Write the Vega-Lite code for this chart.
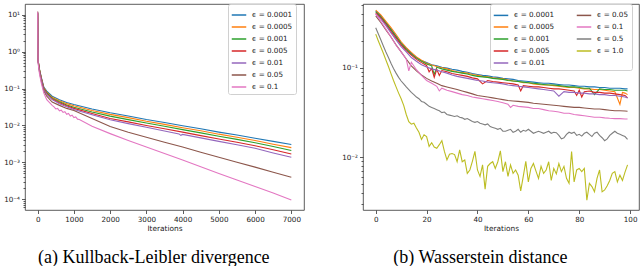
{
"$schema": "https://vega.github.io/schema/vega-lite/v6.json",
"padding": {"left": 3, "top": 3, "right": 0, "bottom": 0},
"spacing": 36,
"config": {
  "view": {"stroke": "#333333", "strokeWidth": 0.8},
  "axis": {"domain": false, "grid": false, "labelFont": "DejaVu Sans", "labelFontSize": 7.2, "labelColor": "#1a1a1a", "tickColor": "#333333", "tickWidth": 0.8, "titleFont": "DejaVu Sans", "titleFontSize": 7.4, "titleFontWeight": "normal", "titleColor": "#1a1a1a", "labelPadding": 2, "titlePadding": 2},
  "legend": {"labelFont": "DejaVu Sans", "labelFontSize": 7.2, "labelColor": "#1a1a1a"},
  "title": {"font": "Liberation Serif", "fontSize": 18, "fontWeight": "normal", "color": "#000000"}
},
"datasets": {
"L": [
{"x":0,"a":12,"b":12,"c":11.5,"d":11,"e":11,"f":11,"g":12},
{"x":10,"a":0.6,"b":0.6,"c":0.6,"d":0.58,"e":0.57,"f":0.55,"g":0.5},
{"x":50,"a":0.33,"b":0.33,"c":0.32,"d":0.31,"e":0.3,"f":0.28,"g":0.25},
{"x":100,"a":0.2,"b":0.195,"c":0.19,"d":0.185,"e":0.18,"f":0.16,"g":0.14},
{"x":170,"a":0.11,"b":0.105,"c":0.1,"d":0.097,"e":0.093,"f":0.085,"g":0.075},
{"x":250,"a":0.085,"b":0.08,"c":0.077,"d":0.073,"e":0.07,"f":0.062,"g":0.05},
{"x":400,"a":0.062,"b":0.058,"c":0.055,"d":0.052,"e":0.05,"f":0.043,"g":0.035},
{"x":450,"g":0.032},
{"x":500,"g":0.028},
{"x":550,"g":0.029},
{"x":600,"a":0.05,"b":0.047,"c":0.044,"d":0.041,"e":0.039,"f":0.035,"g":0.025},
{"x":650,"g":0.026},
{"x":700,"g":0.0225},
{"x":750,"g":0.0235},
{"x":800,"a":0.042,"b":0.039,"c":0.036,"d":0.034,"e":0.032,"f":0.029,"g":0.02},
{"x":850,"g":0.0212},
{"x":900,"g":0.018},
{"x":950,"g":0.019},
{"x":1000,"a":0.037,"b":0.034,"c":0.031,"d":0.029,"e":0.027,"f":0.0255,"g":0.0163},
{"x":1050,"g":0.017},
{"x":1100,"g":0.0148},
{"x":1150,"g":0.0145},
{"x":1500,"a":0.028,"b":0.0255,"c":0.0232,"d":0.021,"e":0.0195,"f":0.0155,"g":0.0095},
{"x":2000,"a":0.022,"b":0.02,"c":0.0179,"d":0.0155,"e":0.0142,"f":0.0093,"g":0.006},
{"x":2500,"a":0.018,"b":0.0163,"c":0.0144,"d":0.0125,"e":0.0112,"f":0.0065,"g":0.0039},
{"x":3000,"a":0.0145,"b":0.013,"c":0.0116,"d":0.01,"e":0.0089,"f":0.0048,"g":0.0026},
{"x":3500,"a":0.012,"b":0.0107,"c":0.0095,"d":0.0081,"e":0.0071,"f":0.0035,"g":0.00174},
{"x":3900,"e":0.0059},
{"x":3950,"e":0.0054},
{"x":4000,"a":0.0098,"b":0.0087,"c":0.0077,"d":0.0066,"e":0.0057,"f":0.0026,"g":0.00115},
{"x":4500,"a":0.0081,"b":0.0072,"c":0.0063,"d":0.0053,"e":0.0046,"f":0.00188,"g":0.00076},
{"x":5000,"a":0.0066,"b":0.0058,"c":0.0051,"d":0.0043,"e":0.0037,"f":0.00137,"g":0.0005},
{"x":5500,"a":0.0055,"b":0.0048,"c":0.0042,"d":0.0035,"e":0.003,"f":0.001,"g":0.00033},
{"x":6000,"a":0.0045,"b":0.0039,"c":0.0034,"d":0.0028,"e":0.0024,"f":0.00074,"g":0.00022},
{"x":6500,"a":0.0037,"b":0.0031,"c":0.0027,"d":0.0022,"e":0.0018,"f":0.00054,"g":0.000147},
{"x":7000,"a":0.00305,"b":0.0025,"c":0.00209,"d":0.00169,"e":0.00138,"f":0.000396,"g":0.000095}
],
"R": [
{"x":0,"a":0.43,"b":0.44,"c":0.42,"d":0.41,"e":0.40,"f":0.38,"g":0.40,"h":0.28,"i":0.237},
{"x":1,"h":0.24,"i":0.2},
{"x":2,"a":0.38,"b":0.39,"c":0.37,"d":0.36,"e":0.35,"f":0.32,"g":0.33,"h":0.205,"i":0.17},
{"x":3,"h":0.175,"i":0.145},
{"x":4,"a":0.32,"b":0.33,"c":0.315,"d":0.305,"e":0.295,"f":0.265,"g":0.27,"h":0.15,"i":0.122},
{"x":5,"h":0.13,"i":0.103},
{"x":6,"a":0.27,"b":0.28,"c":0.265,"d":0.255,"e":0.245,"f":0.22,"g":0.22,"h":0.112,"i":0.086},
{"x":7,"h":0.098,"i":0.072},
{"x":8,"a":0.225,"b":0.235,"c":0.222,"d":0.214,"e":0.205,"f":0.18,"g":0.178,"h":0.087,"i":0.061},
{"x":9,"h":0.078,"i":0.052},
{"x":10,"a":0.19,"b":0.195,"c":0.186,"d":0.18,"e":0.172,"f":0.15,"g":0.15,"h":0.071,"i":0.045},
{"x":11,"h":0.066,"i":0.038},
{"x":12,"a":0.165,"b":0.168,"c":0.16,"d":0.155,"e":0.15,"f":0.125,"g":0.125,"h":0.061,"i":0.030},
{"x":13,"g":0.092,"h":0.057,"i":0.025},
{"x":14,"a":0.145,"b":0.148,"c":0.142,"d":0.138,"e":0.13,"f":0.105,"g":0.115,"h":0.053,"i":0.0234},
{"x":15,"h":0.05,"i":0.024},
{"x":16,"a":0.13,"b":0.132,"c":0.128,"d":0.124,"e":0.118,"f":0.092,"g":0.095,"h":0.047,"i":0.0212},
{"x":17,"h":0.045,"i":0.019},
{"x":18,"a":0.12,"b":0.121,"c":0.118,"d":0.114,"e":0.108,"f":0.083,"g":0.082,"h":0.042,"i":0.0158},
{"x":19,"h":0.041,"i":0.0178},
{"x":20,"a":0.114,"b":0.112,"c":0.11,"d":0.106,"e":0.102,"f":0.076,"g":0.072,"h":0.039,"i":0.017},
{"x":21,"d":0.09,"h":0.037,"i":0.0132},
{"x":22,"a":0.108,"b":0.107,"c":0.105,"d":0.098,"e":0.097,"f":0.071,"g":0.067,"h":0.036,"i":0.0145},
{"x":23,"c":0.084,"d":0.078,"h":0.035,"i":0.013},
{"x":24,"a":0.105,"b":0.103,"c":0.101,"d":0.096,"e":0.094,"f":0.067,"g":0.062,"h":0.034,"i":0.0126},
{"x":25,"d":0.082,"g":0.055,"h":0.033,"i":0.0138},
{"x":26,"a":0.101,"b":0.1,"c":0.097,"d":0.093,"e":0.09,"f":0.063,"g":0.059,"h":0.0315,"i":0.0153},
{"x":27,"h":0.032,"i":0.0116},
{"x":28,"a":0.099,"b":0.097,"c":0.094,"d":0.09,"e":0.087,"f":0.061,"g":0.056,"h":0.030,"i":0.0093},
{"x":29,"h":0.0295,"i":0.0108},
{"x":30,"a":0.096,"b":0.093,"c":0.091,"d":0.086,"e":0.083,"f":0.059,"g":0.054,"h":0.029,"i":0.011},
{"x":31,"h":0.0285,"i":0.0107},
{"x":32,"a":0.094,"b":0.09,"c":0.089,"d":0.084,"e":0.08,"f":0.057,"g":0.052,"h":0.029,"i":0.0089},
{"x":33,"h":0.028,"i":0.0121},
{"x":34,"a":0.091,"b":0.088,"c":0.087,"d":0.082,"e":0.078,"f":0.055,"g":0.05,"h":0.0275,"i":0.0089},
{"x":35,"h":0.0265,"i":0.0093},
{"x":36,"a":0.089,"b":0.087,"c":0.085,"d":0.08,"e":0.076,"f":0.053,"g":0.049,"h":0.027,"i":0.0066},
{"x":37,"h":0.026,"i":0.0072},
{"x":38,"a":0.086,"b":0.084,"c":0.082,"d":0.077,"e":0.074,"f":0.051,"g":0.047,"h":0.025,"i":0.009},
{"x":39,"h":0.0245,"i":0.0116},
{"x":40,"a":0.084,"b":0.082,"c":0.08,"d":0.075,"e":0.072,"f":0.049,"g":0.046,"h":0.025,"i":0.0072},
{"x":41,"h":0.024,"i":0.0061},
{"x":42,"a":0.082,"b":0.08,"c":0.079,"d":0.066,"e":0.071,"f":0.048,"g":0.045,"h":0.0235,"i":0.0082},
{"x":43,"h":0.023,"i":0.0044},
{"x":44,"a":0.081,"b":0.079,"c":0.078,"d":0.072,"e":0.069,"f":0.047,"g":0.044,"h":0.0235,"i":0.0079},
{"x":45,"h":0.022,"i":0.0085},
{"x":46,"a":0.079,"b":0.077,"c":0.076,"d":0.07,"e":0.068,"f":0.046,"g":0.043,"h":0.0215,"i":0.0089},
{"x":47,"h":0.021,"i":0.0075},
{"x":48,"a":0.078,"b":0.076,"c":0.075,"d":0.069,"e":0.067,"f":0.045,"g":0.042,"h":0.0205,"i":0.0089},
{"x":49,"h":0.021,"i":0.0118},
{"x":50,"a":0.076,"b":0.075,"c":0.074,"d":0.068,"e":0.066,"f":0.044,"g":0.0405,"h":0.0195,"i":0.0069},
{"x":51,"h":0.0195,"i":0.0089},
{"x":52,"a":0.075,"b":0.073,"c":0.072,"d":0.067,"e":0.064,"f":0.043,"g":0.039,"h":0.020,"i":0.0061},
{"x":53,"g":0.036,"h":0.0205,"i":0.0082},
{"x":54,"a":0.074,"b":0.071,"c":0.071,"d":0.066,"e":0.063,"f":0.0425,"g":0.038,"h":0.019,"i":0.0066},
{"x":55,"h":0.0195,"i":0.0072},
{"x":56,"a":0.072,"b":0.07,"c":0.07,"d":0.064,"e":0.062,"f":0.042,"g":0.037,"h":0.0205,"i":0.0063},
{"x":57,"d":0.055,"h":0.019,"i":0.0042},
{"x":58,"a":0.071,"b":0.068,"c":0.069,"d":0.063,"e":0.061,"f":0.0415,"g":0.0365,"h":0.020,"i":0.0061},
{"x":59,"h":0.0195,"i":0.009},
{"x":60,"a":0.07,"b":0.068,"c":0.068,"d":0.062,"e":0.06,"f":0.041,"g":0.036,"h":0.0205,"i":0.0053},
{"x":61,"h":0.0195,"i":0.0075},
{"x":62,"a":0.069,"b":0.066,"c":0.067,"d":0.061,"e":0.059,"f":0.04,"g":0.035,"h":0.0185,"i":0.0085},
{"x":63,"h":0.019,"i":0.007},
{"x":64,"a":0.068,"b":0.065,"c":0.066,"d":0.061,"e":0.058,"f":0.0395,"g":0.035,"h":0.0195,"i":0.0058},
{"x":65,"h":0.019,"i":0.0079},
{"x":66,"a":0.067,"b":0.064,"c":0.065,"d":0.06,"e":0.057,"f":0.039,"g":0.034,"h":0.0185,"i":0.0066},
{"x":67,"h":0.019,"i":0.0072},
{"x":68,"a":0.067,"b":0.064,"c":0.064,"d":0.059,"e":0.056,"f":0.0385,"g":0.033,"h":0.0195,"i":0.0089},
{"x":69,"h":0.0185,"i":0.0055},
{"x":70,"a":0.066,"b":0.063,"c":0.064,"d":0.058,"e":0.055,"f":0.038,"g":0.0326,"h":0.019,"i":0.0075},
{"x":71,"h":0.0188,"i":0.0065},
{"x":72,"a":0.065,"b":0.062,"c":0.063,"d":0.058,"e":0.048,"f":0.0375,"g":0.032,"h":0.0175,"i":0.0085},
{"x":73,"h":0.016,"i":0.0069},
{"x":74,"a":0.064,"b":0.061,"c":0.062,"d":0.057,"e":0.054,"f":0.037,"g":0.031,"h":0.0165,"i":0.0079},
{"x":75,"h":0.018,"i":0.0058},
{"x":76,"a":0.064,"b":0.06,"c":0.061,"d":0.056,"e":0.053,"f":0.0365,"g":0.031,"h":0.019,"i":0.0051},
{"x":77,"h":0.0185,"i":0.0116},
{"x":78,"a":0.063,"b":0.06,"c":0.061,"d":0.055,"e":0.053,"f":0.036,"g":0.030,"h":0.019,"i":0.0053},
{"x":79,"d":0.049,"h":0.0175,"i":0.0072},
{"x":80,"a":0.062,"b":0.059,"c":0.06,"d":0.056,"e":0.052,"f":0.036,"g":0.0295,"h":0.018,"i":0.0075},
{"x":81,"d":0.047,"h":0.0172,"i":0.0069},
{"x":82,"a":0.062,"b":0.058,"c":0.059,"d":0.054,"e":0.052,"f":0.0355,"g":0.029,"h":0.0185,"i":0.0075},
{"x":83,"h":0.019,"i":0.0033},
{"x":84,"a":0.061,"b":0.058,"c":0.059,"d":0.055,"e":0.051,"f":0.035,"g":0.0285,"h":0.018,"i":0.0051},
{"x":85,"h":0.017,"i":0.0047},
{"x":86,"a":0.061,"b":0.057,"c":0.05,"d":0.053,"e":0.051,"f":0.0345,"g":0.028,"h":0.0185,"i":0.0041},
{"x":87,"h":0.019,"i":0.0058},
{"x":88,"a":0.06,"b":0.057,"c":0.058,"d":0.053,"e":0.05,"f":0.0345,"g":0.028,"h":0.0175,"i":0.0072},
{"x":89,"h":0.0165,"i":0.0041},
{"x":90,"a":0.06,"b":0.056,"c":0.057,"d":0.052,"e":0.05,"f":0.034,"g":0.0275,"h":0.0153,"i":0.0043},
{"x":91,"h":0.016,"i":0.0048},
{"x":92,"a":0.059,"b":0.055,"c":0.057,"d":0.052,"e":0.049,"f":0.0335,"g":0.0272,"h":0.0175,"i":0.0055},
{"x":93,"h":0.0185,"i":0.0066},
{"x":94,"a":0.059,"b":0.054,"c":0.056,"d":0.051,"e":0.049,"f":0.033,"g":0.027,"h":0.0195,"i":0.0069},
{"x":95,"h":0.0185,"i":0.0053},
{"x":96,"a":0.059,"b":0.039,"c":0.056,"d":0.05,"e":0.048,"f":0.033,"g":0.027,"h":0.018,"i":0.0063},
{"x":97,"b":0.053,"h":0.0175,"i":0.0055},
{"x":98,"a":0.058,"b":0.052,"c":0.056,"d":0.049,"e":0.047,"f":0.0328,"g":0.0267,"h":0.017,"i":0.0068},
{"x":99,"a":0.058,"b":0.05,"c":0.055,"d":0.046,"e":0.046,"f":0.0326,"g":0.0267,"h":0.0158,"i":0.0082}
]
},
"hconcat": [
{
  "width": 279, "height": 206,
  "title": {"text": "(a) Kullback-Leibler divergence", "orient": "bottom", "anchor": "middle", "frame": "bounds", "offset": 17},
  "data": {"name": "L"},
  "transform": [{"fold": ["a","b","c","d","e","f","g"], "as": ["s","v"]}, {"filter": "isValid(datum.v)"}],
  "mark": {"type": "line", "strokeWidth": 1.1, "clip": true},
  "encoding": {
    "x": {"field": "x", "type": "quantitative", "scale": {"domain": [-350, 7350], "nice": false, "zero": false},
      "axis": {"values": [0,1000,2000,3000,4000,5000,6000,7000], "format": "d", "title": "Iterations", "tickSize": 3.5}},
    "y": {"field": "v", "type": "quantitative", "scale": {"type": "log", "domain": [0.000051, 19.6], "nice": false},
      "axis": {"title": null,
        "values": [0.00006,0.00007,0.00008,0.00009,0.0001,0.0002,0.0003,0.0004,0.0005,0.0006,0.0007,0.0008,0.0009,0.001,0.002,0.003,0.004,0.005,0.006,0.007,0.008,0.009,0.01,0.02,0.03,0.04,0.05,0.06,0.07,0.08,0.09,0.1,0.2,0.3,0.4,0.5,0.6,0.7,0.8,0.9,1,2,3,4,5,6,7,8,9,10],
        "labelExpr": "abs(log(datum.value)/LN10 - round(log(datum.value)/LN10)) < 0.001 ? '10' + (round(log(datum.value)/LN10) < 0 ? '⁻' : '') + ['⁰','¹','²','³','⁴','⁵'][abs(round(log(datum.value)/LN10))] : ''",
        "tickSize": {"condition": {"test": "abs(log(datum.value)/LN10 - round(log(datum.value)/LN10)) < 0.001", "value": 3.5}, "value": 2}}},
    "color": {"field": "s", "type": "nominal",
      "scale": {"domain": ["a","b","c","d","e","f","g"], "range": ["#1f77b4","#ff7f0e","#2ca02c","#d62728","#9467bd","#8c564b","#e377c2"]},
      "legend": {"orient": "none", "legendX": 203, "legendY": 0, "title": null, "symbolType": "stroke", "symbolSize": 210, "symbolStrokeWidth": 1.5, "labelOffset": 5, "padding": 3, "rowPadding": 0, "fillColor": "rgba(255,255,255,0.8)", "strokeColor": "#d0d0d0", "cornerRadius": 2,
        "labelExpr": "['ϵ = 0.0001','ϵ = 0.0005','ϵ = 0.001','ϵ = 0.005','ϵ = 0.01','ϵ = 0.05','ϵ = 0.1','ϵ = 0.5','ϵ = 1.0'][indexof('abcdefghi', datum.label)]"}}
  }
},
{
  "width": 276, "height": 206,
  "title": {"text": "(b) Wasserstein distance", "orient": "bottom", "anchor": "middle", "frame": "bounds", "offset": 17, "dx": -10},
  "data": {"name": "R"},
  "transform": [{"fold": ["a","b","c","d","e","f","g","h","i"], "as": ["s","v"]}, {"filter": "isValid(datum.v)"}],
  "mark": {"type": "line", "strokeWidth": 1.1, "clip": true},
  "encoding": {
    "x": {"field": "x", "type": "quantitative", "scale": {"domain": [-5, 103.5], "nice": false, "zero": false},
      "axis": {"values": [0,20,40,60,80,100], "format": "d", "title": "Iterations", "tickSize": 3.5}},
    "y": {"field": "v", "type": "quantitative", "scale": {"type": "log", "domain": [0.00257, 0.515], "nice": false},
      "axis": {"title": null,
        "values": [0.003,0.004,0.005,0.006,0.007,0.008,0.009,0.01,0.02,0.03,0.04,0.05,0.06,0.07,0.08,0.09,0.1,0.2,0.3,0.4,0.5],
        "labelExpr": "abs(log(datum.value)/LN10 - round(log(datum.value)/LN10)) < 0.001 ? '10' + (round(log(datum.value)/LN10) < 0 ? '⁻' : '') + ['⁰','¹','²','³','⁴','⁵'][abs(round(log(datum.value)/LN10))] : ''",
        "tickSize": {"condition": {"test": "abs(log(datum.value)/LN10 - round(log(datum.value)/LN10)) < 0.001", "value": 3.5}, "value": 2}}},
    "color": {"field": "s", "type": "nominal",
      "scale": {"domain": ["a","b","c","d","e","f","g","h","i"], "range": ["#1f77b4","#ff7f0e","#2ca02c","#d62728","#9467bd","#8c564b","#e377c2","#7f7f7f","#bcbd22"]},
      "legend": {"orient": "none", "legendX": 127, "legendY": 0, "title": null, "columns": 2, "columnPadding": 18, "symbolType": "stroke", "symbolSize": 210, "symbolStrokeWidth": 1.5, "labelOffset": 5, "padding": 3, "rowPadding": 0, "fillColor": "rgba(255,255,255,0.8)", "strokeColor": "#d0d0d0", "cornerRadius": 2,
        "labelExpr": "['ϵ = 0.0001','ϵ = 0.0005','ϵ = 0.001','ϵ = 0.005','ϵ = 0.01','ϵ = 0.05','ϵ = 0.1','ϵ = 0.5','ϵ = 1.0'][indexof('abcdefghi', datum.label)]"}}
  }
}
],
"resolve": {"scale": {"color": "independent"}, "legend": {"color": "independent"}}
}
